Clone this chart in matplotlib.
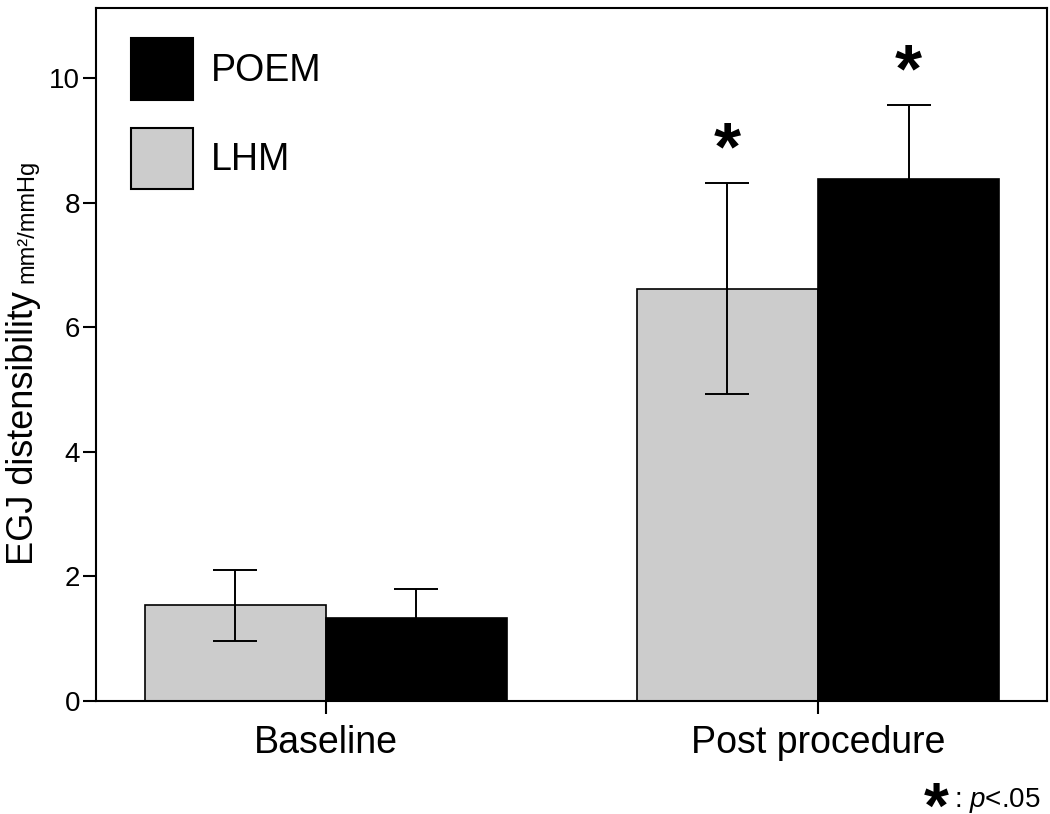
import matplotlib

matplotlib.use("Agg")
import matplotlib.pyplot as plt
import numpy as np
from matplotlib.patches import Patch

plt.rcParams["font.family"] = ["Liberation Sans", "DejaVu Sans"]
plt.rcParams["mathtext.fontset"] = "custom"
plt.rcParams["mathtext.rm"] = "Liberation Sans"
plt.rcParams["mathtext.it"] = "Liberation Sans:italic"

# --- data --------------------------------------------------------------
categories = ["Baseline", "Post procedure"]
lhm_mean = [1.54, 6.62]
lhm_err = [0.57, 1.69]
poem_mean = [1.33, 8.37]
poem_err = [0.46, 1.19]
significant_lhm = [False, True]
significant_poem = [False, True]

GREY = "#cccccc"
W = 0.368

fig = plt.figure(figsize=(10.5, 8.14), dpi=100)
ax = fig.add_axes([0.0914, 0.1388, 0.9056, 0.8512])

x = np.arange(len(categories))
ekw = dict(ecolor="black", elinewidth=1.4, capsize=16, capthick=1.4)
ax.bar(x - W / 2, lhm_mean, W, yerr=lhm_err, color=GREY, edgecolor="black",
       linewidth=1.2, error_kw=ekw, zorder=2)
ax.bar(x + W / 2, poem_mean, W, yerr=poem_err, color="black", edgecolor="black",
       linewidth=1.2, error_kw=ekw, zorder=2)

# significance stars
for xi, m, e, s in zip(x - W / 2, lhm_mean, lhm_err, significant_lhm):
    if s:
        ax.annotate("*", (xi, m + e), xytext=(0, 0), textcoords="offset points",
                    ha="center", va="bottom", fontsize=50, fontweight="bold")
for xi, m, e, s in zip(x + W / 2, poem_mean, poem_err, significant_poem):
    if s:
        ax.annotate("*", (xi, m + e), xytext=(0, 0), textcoords="offset points",
                    ha="center", va="bottom", fontsize=50, fontweight="bold")

ax.set_xlim(-0.467, 1.465)
ax.set_ylim(0, 11.12)
ax.set_yticks([0, 2, 4, 6, 8, 10])
ax.set_xticks(x)
ax.set_xticklabels(categories, fontsize=27)
ax.tick_params(axis="y", labelsize=20, length=9.5, width=1.5, pad=2)
ax.tick_params(axis="x", length=9.5, width=1.5, pad=8)
for sp in ax.spines.values():
    sp.set_linewidth(1.5)

# legend
handles = [Patch(facecolor="black", edgecolor="black", linewidth=1.5, label="POEM"),
           Patch(facecolor=GREY, edgecolor="black", linewidth=1.5, label="LHM")]
ax.legend(handles=handles, loc="upper left", bbox_to_anchor=(0.005, 1.0),
          frameon=False, fontsize=27, handlelength=1.65, handleheight=2.15,
          labelspacing=0.75, handletextpad=0.5, borderpad=0.3)

# y label with small unit
fig.canvas.draw()
r = fig.canvas.get_renderer()
t1 = fig.text(33 / 1050, 1 - 565 / 814, "EGJ distensibility", rotation=90,
              rotation_mode="anchor", ha="left", va="baseline", fontsize=26)
bb = t1.get_window_extent(renderer=r)
fig.text(33 / 1050, (bb.y1 + 8) / 814, "mm\u00b2/mmHg", rotation=90,
         rotation_mode="anchor", ha="left", va="baseline", fontsize=17)

# footnote
fig.text(936 / 1050, 1 - 828 / 814, "*", ha="center", va="baseline",
         fontsize=46, fontweight="bold")
fig.text(954 / 1050, 1 - 807 / 814, r": $\it{p}$<.05", ha="left",
         va="baseline", fontsize=20)

fig.savefig("out.png", dpi=100)
